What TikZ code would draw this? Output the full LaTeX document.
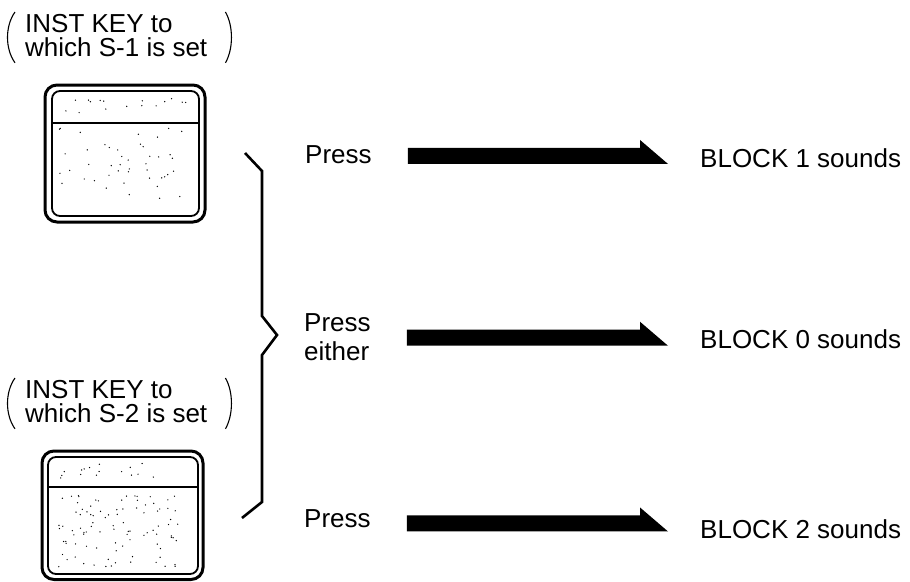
\documentclass[tikz,border=0pt]{standalone}
\usepackage{fontspec}
\setmainfont{Liberation Sans}
\usetikzlibrary{calc}

\tikzset{
  txt/.style={inner sep=0pt, font=\fontsize{26}{29}\selectfont},
  lbl/.style={inner sep=0pt, align=left, anchor=north west, font=\fontsize{26}{24}\selectfont},
  paren/.style={line width=1.1pt},
  keyframe/.style={line width=3pt, rounded corners=12pt},
  keyinner/.style={line width=1.8pt, rounded corners=8pt},
}

% thick half-headed arrow from one text node to the next
\newcommand{\pressarrow}[2]{%
  \fill let \p1=(#1.east), \p2=(#2.west), \p3=($(#1.east)!.5!(#2.west)$) in
    (\x1+36pt,\y3-8pt) -- (\x2-32pt,\y3-8pt) -- (\x2-60pt,\y3+16pt)
    -- (\x2-60pt,\y3+8pt) -- (\x1+36pt,\y3+8pt) -- cycle;
}

\begin{document}
\begin{tikzpicture}[x=1pt,y=-1pt]
  \useasboundingbox (0,0) rectangle (910,581);

  % key labels
  \node[lbl] (lab1) at (25,14) {INST KEY to\\which S-1 is set};
  \node[lbl] (lab2) at (25,380) {INST KEY to\\which S-2 is set};
  \foreach \l in {lab1,lab2}{
    \draw[paren] ([xshift=-10pt,yshift=2pt]\l.north west) .. controls +(-10,14) and +(-10,-14) .. ([xshift=-10pt,yshift=-6pt]\l.south west);
    \draw[paren] ([xshift=18pt,yshift=2pt]\l.north east) .. controls +(8,14) and +(8,-14) .. ([xshift=18pt,yshift=-6pt]\l.south east);
  }

  % keys
  \draw[keyframe] (45,85) rectangle (205,222);
  \draw[keyinner] (52,91) rectangle (199,216);
  \draw[line width=2.4pt] (52,123) -- (199,123);
  \draw[keyframe] (42,451) rectangle (203,579.5);
  \draw[keyinner] (48,457) rectangle (198,574);
  \draw[line width=2.4pt] (48,487) -- (198,487);

  % speckles on the keys
  \pgfmathsetseed{11}
  \foreach \i in {1,...,16}{
    \fill ({60+130*rnd},{98+16*rnd}) circle[radius=0.7pt];
    \fill ({60+120*rnd},{463+18*rnd}) circle[radius=0.7pt];
  }
  \foreach \i in {1,...,45}{
    \fill ({58+125*rnd},{128+72*rnd}) circle[radius=0.7pt];
  }
  \foreach \i in {1,...,95}{
    \fill ({58+128*rnd},{495+72*rnd}) circle[radius=0.7pt];
  }

  % brace
  \draw[line width=2.6pt, line join=miter] (245,153) -- (262,171) -- (262,316) -- (277,335)
    -- (262,355) -- (262,502) -- (242,518);

  % press / block
  \node[txt, anchor=base west] (p1) at (305,163) {Press};
  \node[txt, anchor=north west, align=left] (p2) at (304,313) {Press\\either};
  \node[txt, anchor=base west] (p3) at (304,527) {Press};
  \node[txt, anchor=base west] (b1) at (700,167) {BLOCK 1 sounds};
  \node[txt, anchor=base west] (b0) at (700,348) {BLOCK 0 sounds};
  \node[txt, anchor=base west] (b2) at (700,538) {BLOCK 2 sounds};

  \pressarrow{p1}{b1}
  \pressarrow{p2}{b0}
  \pressarrow{p3}{b2}
\end{tikzpicture}
\end{document}
